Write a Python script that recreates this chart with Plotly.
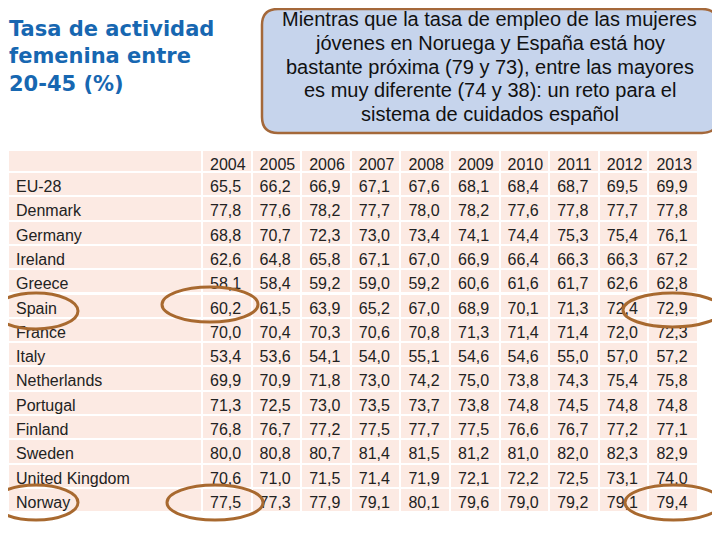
import plotly.graph_objects as go

# ==========================
# Data
# ==========================

countries = [
    "EU-28", "Denmark", "Germany", "Ireland", "Greece", "Spain", "France",
    "Italy", "Netherlands", "Portugal", "Finland", "Sweden",
    "United Kingdom", "Norway",
]

years = ["2004", "2005", "2006", "2007", "2008",
         "2009", "2010", "2011", "2012", "2013"]

y2004 = [65.5, 77.8, 68.8, 62.6, 58.1, 60.2, 70.0, 53.4, 69.9, 71.3, 76.8, 80.0, 70.6, 77.5]
y2005 = [66.2, 77.6, 70.7, 64.8, 58.4, 61.5, 70.4, 53.6, 70.9, 72.5, 76.7, 80.8, 71.0, 77.3]
y2006 = [66.9, 78.2, 72.3, 65.8, 59.2, 63.9, 70.3, 54.1, 71.8, 73.0, 77.2, 80.7, 71.5, 77.9]
y2007 = [67.1, 77.7, 73.0, 67.1, 59.0, 65.2, 70.6, 54.0, 73.0, 73.5, 77.5, 81.4, 71.4, 79.1]
y2008 = [67.6, 78.0, 73.4, 67.0, 59.2, 67.0, 70.8, 55.1, 74.2, 73.7, 77.7, 81.5, 71.9, 80.1]
y2009 = [68.1, 78.2, 74.1, 66.9, 60.6, 68.9, 71.3, 54.6, 75.0, 73.8, 77.5, 81.2, 72.1, 79.6]
y2010 = [68.4, 77.6, 74.4, 66.4, 61.6, 70.1, 71.4, 54.6, 73.8, 74.8, 76.6, 81.0, 72.2, 79.0]
y2011 = [68.7, 77.8, 75.3, 66.3, 61.7, 71.3, 71.4, 55.0, 74.3, 74.5, 76.7, 82.0, 72.5, 79.2]
y2012 = [69.5, 77.7, 75.4, 66.3, 62.6, 72.4, 72.0, 57.0, 75.4, 74.8, 77.2, 82.3, 73.1, 79.1]
y2013 = [69.9, 77.8, 76.1, 67.2, 62.8, 72.9, 72.3, 57.2, 75.8, 74.8, 77.1, 82.9, 74.0, 79.4]

columns = [y2004, y2005, y2006, y2007, y2008, y2009, y2010, y2011, y2012, y2013]

title_text = "Tasa de actividad<br>femenina entre<br>20-45 (%)"
note_lines = [
    "Mientras que la tasa de empleo de las mujeres",
    "jóvenes en Noruega y España está hoy",
    "bastante próxima (79 y 73), entre las mayores",
    "es muy diferente (74 y 38): un reto para el",
    "sistema de cuidados español",
]

W, H = 720, 540
OFF = 8  # page body margin: the figure sits 8px in from the window corner


def fmt(v):
    return f"{v:.1f}".replace(".", ",")


def px(x):
    # window pixel -> paper fraction
    return (x - OFF) / W


def py(y):
    return 1 - (y - OFF) / H


PINK = "#FCEAE3"
TEXT = "#222222"
FONT = "Liberation Sans, Arial"

fig = go.Figure()

# ==========================
# Table
# ==========================

fig.add_trace(
    go.Table(
        domain=dict(x=[0, px(698)], y=[py(513), py(150)]),
        columnwidth=[194] + [49.6] * 10,
        header=dict(
            values=[""] + years,
            fill_color=PINK,
            line=dict(color="white", width=2),
            align="left",
            height=22,
            font=dict(family=FONT, size=16, color=TEXT),
        ),
        cells=dict(
            values=[countries] + [[fmt(v) for v in col] for col in columns],
            fill_color=PINK,
            line=dict(color="white", width=2),
            align="left",
            height=24.3,
            font=dict(family=FONT, size=16, color=TEXT),
        ),
    )
)

# ==========================
# Title and note box
# ==========================

fig.add_annotation(
    x=px(7), y=py(15), xref="paper", yref="paper",
    xanchor="left", yanchor="top", align="left",
    text=title_text, showarrow=False,
    font=dict(family="DejaVu Sans", size=21, color="#1767B1", weight="bold"),
)

x0, x1, y0, y1, r = 262, 718, 9, 133, 16
box_path = (
    f"M {px(x0 + r)} {py(y0)} L {px(x1 - r)} {py(y0)} "
    f"Q {px(x1)} {py(y0)} {px(x1)} {py(y0 + r)} "
    f"L {px(x1)} {py(y1 - r)} "
    f"Q {px(x1)} {py(y1)} {px(x1 - r)} {py(y1)} "
    f"L {px(x0 + r)} {py(y1)} "
    f"Q {px(x0)} {py(y1)} {px(x0)} {py(y1 - r)} "
    f"L {px(x0)} {py(y0 + r)} "
    f"Q {px(x0)} {py(y0)} {px(x0 + r)} {py(y0)} Z"
)
fig.add_shape(
    type="path", path=box_path, xref="paper", yref="paper",
    fillcolor="#C6D4EC", line=dict(color="#A4683A", width=2.5),
)

for i, line in enumerate(note_lines):
    fig.add_annotation(
        x=px(490), y=py(19.5 + 23.5 * i), xref="paper", yref="paper",
        xanchor="center", yanchor="middle",
        text=line, showarrow=False,
        font=dict(family=FONT, size=20, color="#111111"),
    )

# ==========================
# Highlight ellipses
# ==========================

ellipses = [
    (-6, 293, 78, 329),
    (162, 287, 258, 322),
    (623, 293, 722, 327),
    (-6, 485, 78, 520),
    (167, 485, 263, 520),
    (625, 485, 722, 520),
]
for ex0, ey0, ex1, ey1 in ellipses:
    fig.add_shape(
        type="circle", xref="paper", yref="paper",
        x0=px(ex0), x1=px(ex1), y0=py(ey1), y1=py(ey0),
        line=dict(color="#A8692F", width=3),
    )

# ==========================
# Layout
# ==========================

fig.update_layout(
    width=W,
    height=H,
    margin=dict(l=0, r=0, t=0, b=0),
    paper_bgcolor="white",
    plot_bgcolor="white",
)

fig.write_html("out.html")
